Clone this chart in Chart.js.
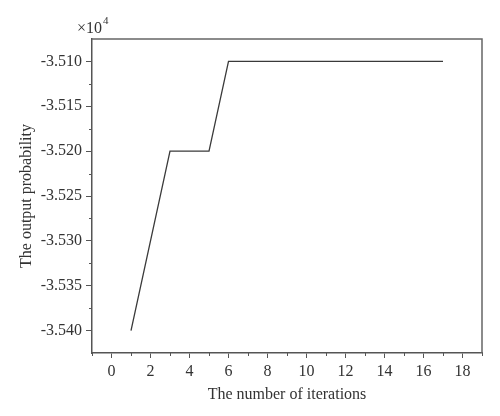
<!DOCTYPE html>
<html>
<head>
<meta charset="utf-8">
<script src="https://cdn.jsdelivr.net/npm/chart.js@4"></script>
<style>
  html, body { margin: 0; padding: 0; background: #fff; }
  #wrap { width: 500px; height: 416px; }
</style>
</head>
<body>
<div id="wrap"><canvas id="myChart" width="500" height="416"></canvas></div>
<script>
// data (y values in units of 10^4)
const iterations = [1, 2, 3, 4, 5, 6, 7, 8, 9, 10, 11, 12, 13, 14, 15, 16, 17];
const outputProb = [-3.540, -3.530, -3.520, -3.520, -3.520, -3.510, -3.510, -3.510, -3.510,
                    -3.510, -3.510, -3.510, -3.510, -3.510, -3.510, -3.510, -3.510];
const xTicks = [0, 2, 4, 6, 8, 10, 12, 14, 16, 18];
const yTicks = [-3.540, -3.535, -3.530, -3.525, -3.520, -3.515, -3.510];

const FONT = '"Liberation Serif", "DejaVu Serif", serif';
const TXT = '#333';
const AXIS = '#555';

// minor ticks, frame and the x10^4 label
const decorPlugin = {
    id: 'decor',
    afterDraw(chart) {
        const ctx = chart.ctx;
        const a = chart.chartArea;
        const xs = chart.scales.x, ys = chart.scales.y;
        ctx.save();
        ctx.strokeStyle = AXIS;
        ctx.lineWidth = 1;
        // minor ticks on x
        for (let v = -1; v <= 19; v += 2) {
            const px = Math.round(xs.getPixelForValue(v)) + 0.5;
            ctx.beginPath();
            ctx.moveTo(px, a.bottom);
            ctx.lineTo(px, a.bottom + 3);
            ctx.stroke();
        }
        // minor ticks on y
        for (let i = 0; i < yTicks.length - 1; i++) {
            const py = Math.round(ys.getPixelForValue((yTicks[i] + yTicks[i + 1]) / 2)) + 0.5;
            ctx.beginPath();
            ctx.moveTo(a.left, py);
            ctx.lineTo(a.left - 3, py);
            ctx.stroke();
        }
        // top and right frame
        ctx.strokeStyle = '#666';
        ctx.lineWidth = 1.5;
        ctx.beginPath();
        ctx.moveTo(a.left, a.top);
        ctx.lineTo(a.right, a.top);
        ctx.lineTo(a.right, a.bottom);
        ctx.stroke();
        // x10^4
        ctx.fillStyle = TXT;
        ctx.textBaseline = 'alphabetic';
        ctx.font = '16px ' + FONT;
        ctx.fillText('\u00d710', 77, 33);
        ctx.font = '11px ' + FONT;
        ctx.fillText('4', 103, 24);
        ctx.restore();
    }
};

function drawChart() {
    const ctx = document.getElementById('myChart').getContext('2d');

    const data = {
        datasets: [{
            label: 'output probability',
            data: iterations.map((x, i) => ({ x: x, y: outputProb[i] })),
            borderColor: '#3a3a3a',
            borderWidth: 1.3,
            pointRadius: 0,
            tension: 0,
            fill: false
        }]
    };

    const config = {
        type: 'line',
        data: data,
        options: {
            responsive: false,
            animation: false,
            layout: { padding: { left: 17, top: 39, right: 18, bottom: 12 } },
            plugins: { legend: { display: false }, tooltip: { enabled: false } },
            scales: {
                x: {
                    type: 'linear',
                    min: -1,
                    max: 19,
                    afterBuildTicks: (s) => { s.ticks = xTicks.map(v => ({ value: v })); },
                    afterFit: (s) => { s.height = 51; },
                    grid: { drawOnChartArea: false, tickLength: 5, color: AXIS },
                    border: { color: AXIS, width: 1.5 },
                    ticks: { color: TXT, font: { family: FONT, size: 16 }, padding: 4, maxRotation: 0 },
                    title: { display: true, text: 'The number of iterations', color: TXT,
                             font: { family: FONT, size: 16 }, padding: { top: 0, bottom: 0 } }
                },
                y: {
                    min: -3.5425,
                    max: -3.5075,
                    afterBuildTicks: (s) => { s.ticks = yTicks.map(v => ({ value: v })); },
                    afterFit: (s) => { s.width = 75; },
                    grid: { drawOnChartArea: false, tickLength: 6, color: AXIS },
                    border: { color: AXIS, width: 1.5 },
                    ticks: { color: TXT, font: { family: FONT, size: 16 }, padding: 4,
                             callback: (v) => v.toFixed(3) },
                    title: { display: true, text: 'The output probability', color: TXT,
                             font: { family: FONT, size: 16 }, padding: 0 }
                }
            }
        },
        plugins: [decorPlugin]
    };

    new Chart(ctx, config);
}

window.onload = drawChart;
</script>
</body>
</html>
